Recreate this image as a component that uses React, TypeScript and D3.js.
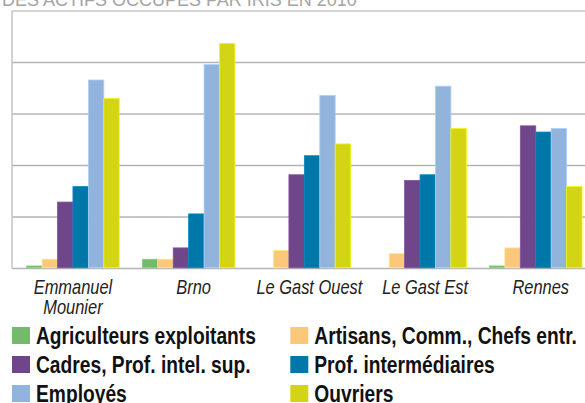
import React, { useEffect, useRef } from 'react';
import * as d3 from 'd3';

// 数据
const titleText = 'DES ACTIFS OCCUPES PAR IRIS EN 2010';
const categories = ['Emmanuel Mounier', 'Brno', 'Le Gast Ouest', 'Le Gast Est', 'Rennes'];
const categoryLines = [['Emmanuel', 'Mounier'], ['Brno'], ['Le Gast Ouest'], ['Le Gast Est'], ['Rennes']];
const seriesNames = [
  'Agriculteurs exploitants',
  'Artisans, Comm., Chefs entr.',
  'Cadres, Prof. intel. sup.',
  'Prof. intermédiaires',
  'Employés',
  'Ouvriers',
];
const agriculteurs = [0.5, 1.8, 0, 0, 0.5];
const artisans = [1.8, 1.8, 3.5, 2.9, 4.0];
const cadres = [12.9, 4.0, 18.2, 17.1, 27.7];
const profInter = [15.9, 10.6, 21.9, 18.2, 26.5];
const employes = [36.6, 39.6, 33.6, 35.4, 27.2];
const ouvriers = [33.0, 43.7, 24.2, 27.2, 15.9];
const yTicks = [0, 10, 20, 30, 40, 50];

const seriesValues = [agriculteurs, artisans, cadres, profInter, employes, ouvriers];
const colorTable = ['#74b96c', '#fac77b', '#70468a', '#0077a9', '#92b4dc', '#d3d514'];

const W = 585;
const H = 403;

export default function App() {
  const ref = useRef<SVGSVGElement>(null);

  useEffect(() => {
    const svg = d3.select(ref.current);
    svg.selectAll('*').remove();

    const plotLeft = 12;
    const plotTop = 11;
    const plotBottom = 268.5;

    // 比例尺
    const y = d3.scaleLinear().domain([0, 50]).range([plotBottom, plotTop]);
    const x0 = d3
      .scaleBand()
      .domain(categories)
      .range([15.1, 593.6])
      .paddingInner(0.2)
      .paddingOuter(0.1);
    const x1 = d3
      .scaleBand()
      .domain(seriesNames)
      .range([0, x0.bandwidth()]);

    const fontFamily = '"Liberation Sans", Arial, sans-serif';

    // 标题（被裁切）
    svg
      .append('text')
      .attr('x', 2)
      .attr('y', 6)
      .attr('fill', '#a4a4a4')
      .style('font-family', fontFamily)
      .style('font-size', '18px')
      .text(titleText);

    // 网格线
    svg
      .append('g')
      .selectAll('line')
      .data(yTicks)
      .enter()
      .append('line')
      .attr('x1', plotLeft)
      .attr('x2', W)
      .attr('y1', (d) => y(d))
      .attr('y2', (d) => y(d))
      .attr('stroke', (d) => (d === 50 ? '#c4c4c4' : '#b4b4b4'))
      .attr('stroke-width', 1.5);

    // 左轴线
    svg
      .append('line')
      .attr('x1', plotLeft)
      .attr('x2', plotLeft)
      .attr('y1', plotTop)
      .attr('y2', plotBottom)
      .attr('stroke', '#c4c4c4')
      .attr('stroke-width', 1.5);

    // 柱子
    seriesValues.forEach((values, si) => {
      svg
        .append('g')
        .selectAll('rect')
        .data(values)
        .enter()
        .append('rect')
        .attr('x', (d, i) => (x0(categories[i]) || 0) + (x1(seriesNames[si]) || 0))
        .attr('width', x1.bandwidth())
        .attr('y', (d) => y(d))
        .attr('height', (d) => plotBottom - 0.75 - y(d))
        .attr('fill', colorTable[si])
        .attr('stroke', d3.color(colorTable[si])!.brighter(0.4).formatHex())
        .attr('stroke-width', 0.8);
    });

    // 窄体文字：按参考宽度横向压缩
    const labelSize = 20;
    const probe = svg
      .append('text')
      .style('font-family', fontFamily)
      .style('font-style', 'italic')
      .style('font-size', `${labelSize}px`)
      .text('Le Gast Ouest');
    const labelScale = 106 / (probe.node() as SVGTextElement).getComputedTextLength();
    probe.remove();

    // X轴标签
    const labelG = svg.append('g');
    categories.forEach((c, i) => {
      const cx = (x0(c) || 0) + x0.bandwidth() / 2 + (i === 0 ? 0 : 5);
      categoryLines[i].forEach((line, li) => {
        labelG
          .append('text')
          .attr('transform', `translate(${cx},${293.5 + li * 20}) scale(${labelScale},1)`)
          .attr('text-anchor', 'middle')
          .attr('fill', '#222')
          .style('font-family', fontFamily)
          .style('font-style', 'italic')
          .style('font-size', `${labelSize}px`)
          .text(line);
      });
    });

    // 图例
    const legendSize = 24;
    const probe2 = svg
      .append('text')
      .style('font-family', fontFamily)
      .style('font-weight', 'bold')
      .style('font-size', `${legendSize}px`)
      .text(seriesNames[0]);
    const legendScale = 220 / (probe2.node() as SVGTextElement).getComputedTextLength();
    probe2.remove();

    const legendG = svg.append('g');
    const legend = legendG
      .selectAll('.legend')
      .data(seriesNames)
      .enter()
      .append('g')
      .attr('class', 'legend')
      .attr('transform', (d, i) => `translate(${i % 2 === 0 ? 12 : 290.3},${327 + Math.floor(i / 2) * 29})`);
    legend
      .append('rect')
      .attr('width', 18)
      .attr('height', 17)
      .attr('fill', (d, i) => colorTable[i]);
    legend
      .append('text')
      .attr('transform', `translate(24,17) scale(${legendScale},1)`)
      .attr('fill', '#111')
      .style('font-family', fontFamily)
      .style('font-weight', 'bold')
      .style('font-size', `${legendSize}px`)
      .text((d) => d);
  }, []);

  return (
    <svg
      ref={ref}
      width={W}
      height={H}
      style={{ position: 'absolute', left: 0, top: 0, background: '#fff' }}
    />
  );
}
